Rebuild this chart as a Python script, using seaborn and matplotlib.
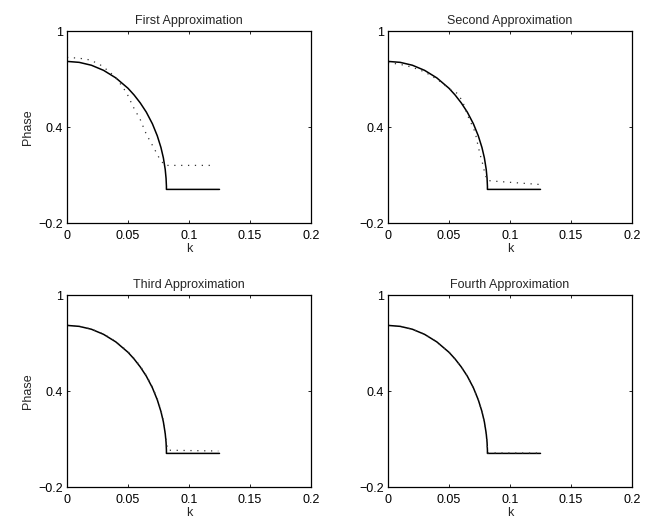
import numpy as np
import pandas as pd
import matplotlib
matplotlib.use("Agg")
import matplotlib.pyplot as plt
import seaborn as sns

# ---- data ----
titles = ["First Approximation", "Second Approximation",
          "Third Approximation", "Fourth Approximation"]

# exact (solid) curve, same in all panels
k_exact = [0.0, 0.010, 0.020, 0.030, 0.040, 0.050, 0.055, 0.060, 0.065,
           0.070, 0.074, 0.077, 0.079, 0.0805, 0.0812, 0.0815, 0.0815, 0.125]
p_exact = [0.810, 0.804, 0.786, 0.754, 0.707, 0.642, 0.600, 0.551, 0.493,
           0.420, 0.345, 0.272, 0.207, 0.135, 0.079, 0.030, 0.010, 0.010]

# approximations (dotted)
k_app1 = [0.0, 0.010, 0.019, 0.027, 0.035, 0.042, 0.049, 0.054, 0.060,
          0.065, 0.071, 0.076, 0.0802, 0.082, 0.121]
p_app1 = [0.835, 0.830, 0.819, 0.790, 0.745, 0.689, 0.612, 0.530, 0.447,
          0.355, 0.272, 0.200, 0.160, 0.160, 0.160]

k_app2 = [0.0, 0.0098, 0.018, 0.0262, 0.0344, 0.0426, 0.0495, 0.0568, 0.0612,
          0.0639, 0.0672, 0.0700, 0.0721, 0.0735, 0.0754, 0.0776, 0.0795,
          0.0814, 0.0863, 0.124]
p_app2 = [0.802, 0.792, 0.777, 0.757, 0.726, 0.685, 0.643, 0.610, 0.560,
          0.500, 0.437, 0.396, 0.344, 0.293, 0.231, 0.169, 0.107,
          0.066, 0.062, 0.041]

k_app3 = [0.0, 0.010, 0.020, 0.030, 0.040, 0.050, 0.055, 0.060, 0.065,
          0.070, 0.074, 0.077, 0.0795, 0.081, 0.0825, 0.124]
p_app3 = [0.812, 0.805, 0.787, 0.756, 0.710, 0.646, 0.604, 0.556, 0.498,
          0.425, 0.352, 0.280, 0.200, 0.110, 0.030, 0.025]

k_app4 = [0.0, 0.010, 0.020, 0.030, 0.040, 0.050, 0.055, 0.060, 0.065,
          0.070, 0.074, 0.077, 0.079, 0.0805, 0.0812, 0.0817, 0.124]
p_app4 = [0.810, 0.804, 0.786, 0.754, 0.707, 0.642, 0.600, 0.551, 0.493,
          0.420, 0.345, 0.272, 0.207, 0.135, 0.079, 0.013, 0.012]

approx_k = [k_app1, k_app2, k_app3, k_app4]
approx_p = [p_app1, p_app2, p_app3, p_app4]

x_ticks = [0, 0.05, 0.1, 0.15, 0.2]
x_ticklabels = ["0", "0.05", "0.1", "0.15", "0.2"]
y_ticks = [-0.2, 0.4, 1.0]
y_ticklabels = ["\u22120.2", "0.4", "1"]

# ---- style ----
sns.set_style("ticks")
plt.rcParams["font.family"] = ["Liberation Sans", "DejaVu Sans"]
plt.rcParams["font.size"] = 9

W, H = 669, 519
fig = plt.figure(figsize=(W / 100, H / 100), dpi=100)

positions = [(67, 31), (388, 31), (67, 295), (388, 295)]
aw, ah = 244, 192

for i, (left, top) in enumerate(positions):
    ax = fig.add_axes([left / W, 1 - (top + ah) / H, aw / W, ah / H])
    df_e = pd.DataFrame({"k": k_exact, "Phase": p_exact})
    df_a = pd.DataFrame({"k": approx_k[i], "Phase": approx_p[i]})
    sns.lineplot(data=df_e, x="k", y="Phase", ax=ax, color="black",
                 lw=1.1, sort=False, estimator=None)
    sns.lineplot(data=df_a, x="k", y="Phase", ax=ax, color="#333333",
                 lw=0.9, sort=False, estimator=None, linestyle=(0, (1, 4.5)))
    ax.set_xlim(0, 0.2)
    ax.set_ylim(-0.2, 1.0)
    ax.set_xticks(x_ticks)
    ax.set_xticklabels(x_ticklabels)
    ax.set_yticks(y_ticks)
    ax.set_yticklabels(y_ticklabels)
    ax.tick_params(direction="in", length=2.5, width=0.6, top=True,
                   right=True, labelsize=9, colors="black")
    ax.tick_params(axis="x", pad=5)
    ax.tick_params(axis="y", pad=3)
    for s in ax.spines.values():
        s.set_visible(True)
        s.set_linewidth(0.9)
        s.set_color("black")
    ax.set_title(titles[i], fontsize=9, pad=5)
    ax.set_xlabel("k", fontsize=9, labelpad=0.5)
    if i % 2 == 0:
        ax.set_ylabel("Phase", fontsize=9, labelpad=3)
    else:
        ax.set_ylabel("")

fig.savefig("out.png", dpi=100)
